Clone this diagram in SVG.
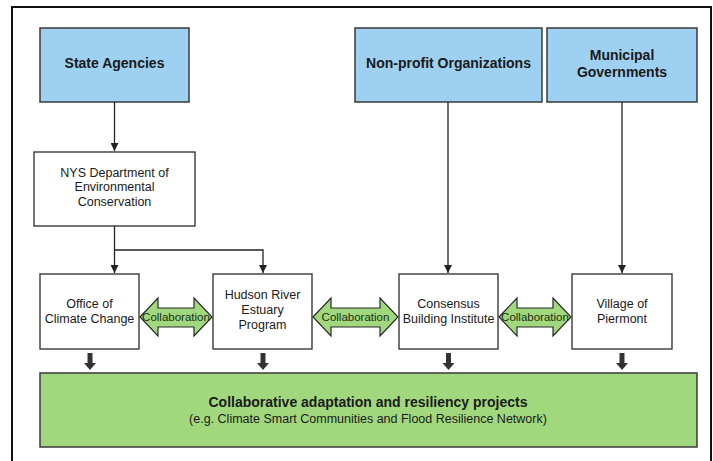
<svg xmlns="http://www.w3.org/2000/svg" width="713" height="461" viewBox="0 0 713 461">
<defs>
<style>
.frame{fill:#fff;stroke:#111;stroke-width:2}
.cat{fill:#9dd0f1;stroke:#3a3a3a;stroke-width:1.5}
.box{fill:#fff;stroke:#2a2a2a;stroke-width:1.3}
.out{fill:#a1d87d;stroke:#3a3a3a;stroke-width:1.5}
.collab{fill:#a1d87d;stroke:#2a2a2a;stroke-width:1.2}
.conn{fill:none;stroke:#222;stroke-width:1.3}
.down{fill:#333;stroke:none}
text{font-family:"Liberation Sans",Arial,sans-serif;fill:#1a1a1a;text-anchor:middle}
.h{font-size:14px;font-weight:bold}
.t{font-size:12.5px}
.c{font-size:11.5px;fill:#1c2e12}
</style>
<marker id="ah" viewBox="0 0 10 10" refX="10" refY="5" markerWidth="8" markerHeight="8" markerUnits="userSpaceOnUse" orient="auto">
<path d="M0,0 L10,5 L0,10 Z" fill="#222"/>
</marker>
</defs>
<rect class="frame" x="12" y="7" width="699" height="470"/>

<g id="state-agencies">
<rect class="cat" x="40" y="28" width="149" height="74"/>
<text class="h" x="114.5" y="68">State Agencies</text>
</g>
<g id="non-profit">
<rect class="cat" x="355" y="28" width="187" height="74"/>
<text class="h" x="448.5" y="68">Non-profit Organizations</text>
</g>
<g id="municipal">
<rect class="cat" x="547" y="28" width="150" height="74"/>
<text class="h" x="622" y="60">Municipal</text>
<text class="h" x="622" y="77">Governments</text>
</g>
<g id="nys-dec">
<rect class="box" x="34" y="152" width="161" height="74"/>
<text class="t" x="114.5" y="176.5">NYS Department of</text>
<text class="t" x="114.5" y="191">Environmental</text>
<text class="t" x="114.5" y="205.5">Conservation</text>
</g>
<g id="office">
<rect class="box" x="40" y="274" width="99" height="75"/>
<text class="t" x="89.5" y="307.5">Office of</text>
<text class="t" x="89.5" y="322.5">Climate Change</text>
</g>
<g id="hudson">
<rect class="box" x="213" y="274" width="99" height="75"/>
<text class="t" x="262.5" y="298.5">Hudson River</text>
<text class="t" x="262.5" y="313.5">Estuary</text>
<text class="t" x="262.5" y="328.5">Program</text>
</g>
<g id="consensus">
<rect class="box" x="399" y="274" width="99" height="75"/>
<text class="t" x="448.5" y="307.5">Consensus</text>
<text class="t" x="448.5" y="322.5">Building Institute</text>
</g>
<g id="village">
<rect class="box" x="572" y="274" width="100" height="75"/>
<text class="t" x="622" y="307.5">Village of</text>
<text class="t" x="622" y="322.5">Piermont</text>
</g>
<g id="projects">
<rect class="out" x="40" y="373" width="657" height="74"/>
<text class="h" x="368" y="407">Collaborative adaptation and resiliency projects</text>
<text class="t" x="368" y="422.5">(e.g. Climate Smart Communities and Flood Resilience Network)</text>
</g>

<g id="connectors">
<path class="conn" d="M114.5,102 V151" marker-end="url(#ah)"/>
<path class="conn" d="M114.5,226 V273" marker-end="url(#ah)"/>
<path class="conn" d="M114.5,250 H263 V273" marker-end="url(#ah)"/>
<path class="conn" d="M448,102 V273" marker-end="url(#ah)"/>
<path class="conn" d="M622,102 V273" marker-end="url(#ah)"/>

<g id="collab-1">
<path class="collab" d="M140,317 L158,298 L158,308 L194,308 L194,298 L212,317 L194,336 L194,327 L158,327 L158,336 Z"/>
<text class="c" x="176" y="321">Collaboration</text>
</g>
<g id="collab-2">
<path class="collab" d="M313,317 L331,298 L331,308 L380,308 L380,298 L398,317 L380,336 L380,327 L331,327 L331,336 Z"/>
<text class="c" x="355.5" y="321">Collaboration</text>
</g>
<g id="collab-3">
<path class="collab" d="M499,317 L517,298 L517,308 L553,308 L553,298 L571,317 L553,336 L553,327 L517,327 L517,336 Z"/>
<text class="c" x="535" y="321">Collaboration</text>
</g>

<path class="down" d="M87.5,353 h5 v10 h3.5 l-6,7 l-6,-7 h3.5 Z"/>
<path class="down" d="M260.5,353 h5 v10 h3.5 l-6,7 l-6,-7 h3.5 Z"/>
<path class="down" d="M446,353 h5 v10 h3.5 l-6,7 l-6,-7 h3.5 Z"/>
<path class="down" d="M619.5,353 h5 v10 h3.5 l-6,7 l-6,-7 h3.5 Z"/>
</g>
</svg>
